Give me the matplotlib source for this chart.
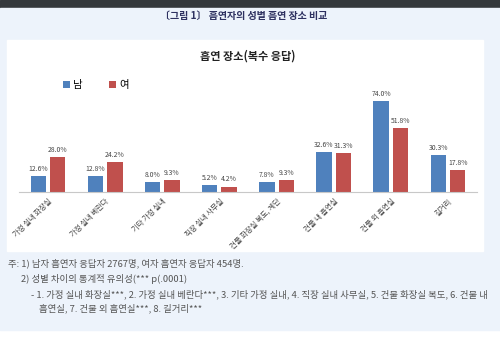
import numpy as np
import matplotlib.pyplot as plt
from matplotlib.patches import Rectangle

plt.rcParams['font.family'] = ['Noto Sans CJK KR', 'DejaVu Sans']

places = ['가정 실내 화장실', '가정 실내 베란다', '기타 가정 실내', '직장 실내 사무실',
          '건물 화장실 복도, 계단', '건물 내 흡연실', '건물 외 흡연실', '길거리']
male = [12.6, 12.8, 8.0, 5.2, 7.8, 32.6, 74.0, 30.3]
female = [28.0, 24.2, 9.3, 4.2, 9.3, 31.3, 51.8, 17.8]
series_names = ['남', '여']

W, H = 500, 351
fig = plt.figure(figsize=(W / 100, H / 100), dpi=100)

def px(x, y):
    return x / W, 1 - y / H

# page background pieces
fig.patches.append(Rectangle((0, 1 - 8 / H), 1, 8 / H, transform=fig.transFigure,
                             color='#34383c', zorder=-3))
fig.patches.append(Rectangle((0, 1 - 330 / H), 1, 322 / H, transform=fig.transFigure,
                             color='#edf3fb', zorder=-3))
fig.patches.append(Rectangle((7 / W, 1 - 251 / H), 476 / W, 211 / H, transform=fig.transFigure,
                             color='white', zorder=-2))

fig.text(*px(244, 16), '〔그림 1〕 흡연자의 성별 흡연 장소 비교', ha='center', va='center',
         fontsize=7.2, fontweight='bold', color='#2e3160')
fig.text(*px(248, 56), '흡연 장소(복수 응답)', ha='center', va='center',
         fontsize=8, fontweight='bold', color='#222222')

ax = fig.add_axes([19.4 / W, 1 - 191.7 / H, 457.2 / W, 98 / H])
ax.set_zorder(2)
ax.set_facecolor('none')
x = np.arange(len(places))
w = 0.27
b1 = ax.bar(x - 0.17, male, w, color='#4f81bd', label=series_names[0])
b2 = ax.bar(x + 0.17, female, w, color='#c0504d', label=series_names[1])
for bars, vals in ((b1, male), (b2, female)):
    for r, v in zip(bars, vals):
        ax.text(r.get_x() + r.get_width() / 2, v + 2.5, f'{v:.1f}%', ha='center', va='bottom',
                fontsize=4.9, color='#444444')
ax.set_xlim(-0.5, 7.5)
ax.set_ylim(0, 80)
ax.set_yticks([])
ax.set_xticks(x)
ax.set_xticklabels(places, rotation=45, ha='right', rotation_mode='anchor',
                   fontsize=5.3, color='#444444')
ax.tick_params(axis='x', length=0, pad=4)
for s in ['top', 'right', 'left']:
    ax.spines[s].set_visible(False)
ax.spines['bottom'].set_color('#c8c8c8')
ax.spines['bottom'].set_linewidth(0.8)

ax.legend(loc='center left', bbox_to_anchor=(px(54, 85)), bbox_transform=fig.transFigure,
          ncol=2, frameon=False, fontsize=7.5, handlelength=0.6, handleheight=0.6,
          columnspacing=2.6, handletextpad=0.3)

note_color = '#555555'
fs = 6.75
fig.text(*px(8, 263), '주: 1) 남자 흡연자 응답자 2767명, 여자 흡연자 응답자 454명.',
         fontsize=fs, color=note_color, va='center')
fig.text(*px(21, 279), '2) 성별 차이의 통계적 유의성(*** p(.0001)',
         fontsize=fs, color=note_color, va='center')
fig.text(*px(31, 294), '- 1. 가정 실내 화장실***, 2. 가정 실내 베란다***, 3. 기타 가정 실내, 4. 직장 실내 사무실, 5. 건물 화장실 복도, 6. 건물 내',
         fontsize=fs, color=note_color, va='center')
fig.text(*px(39, 308), '흡연실, 7. 건물 외 흡연실***, 8. 길거리***',
         fontsize=fs, color=note_color, va='center')

fig.savefig('out.png', dpi=100)
